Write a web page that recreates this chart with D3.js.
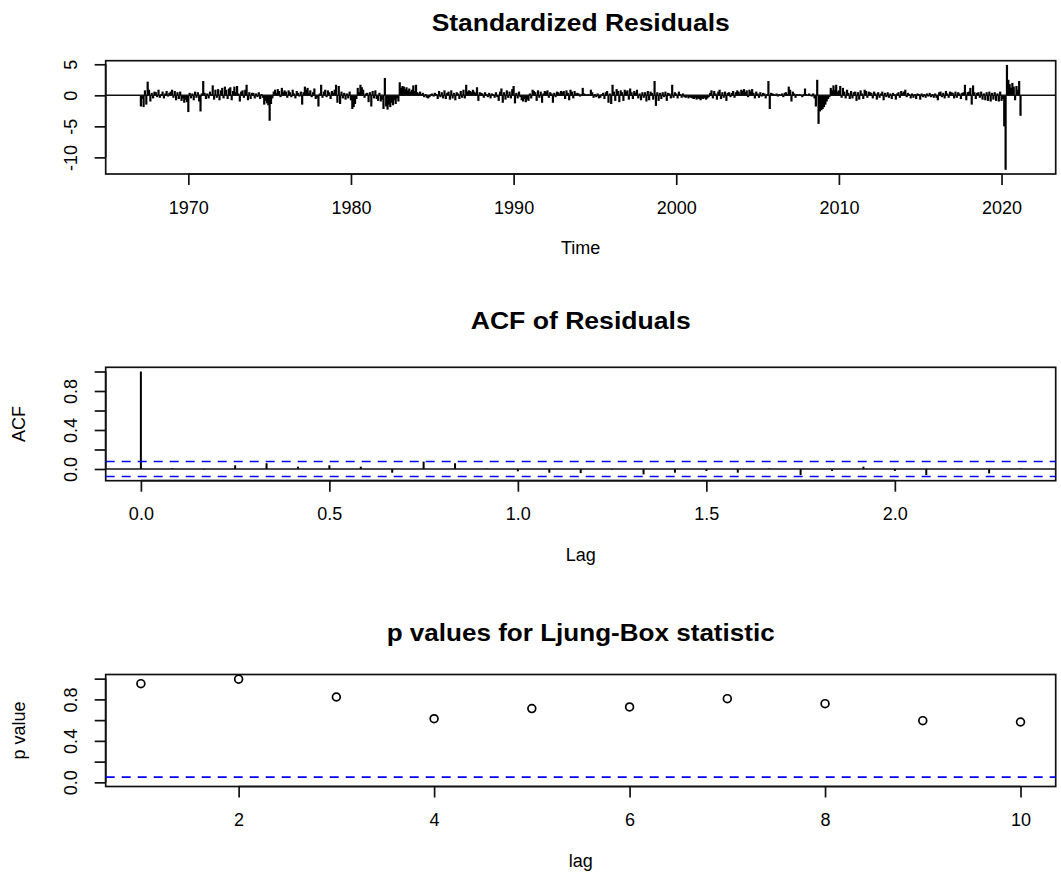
<!DOCTYPE html>
<html><head><meta charset="utf-8">
<script src="https://cdn.jsdelivr.net/npm/d3@7"></script>
<style>
body{margin:0;background:#fff}
svg{display:block}
text{font-family:"Liberation Sans",Arial,sans-serif;fill:#000}
</style>
</head><body>
<svg id="c" width="1061" height="875"></svg>
<script>
// ---------- DATA ----------
const resStartYear = 1967, resStartMonth = 2, resFrequency = 12; // monthly, Feb 1967 .. Mar 2021
const residuals = [
/*1967*/ -1.8,-0.6,-1.9,0.8,-1.5,2.2,0.9,-1.0,0.4,-0.5,0.6,
/*1968*/ 0.5,-0.3,0.9,-0.4,0.2,0.6,-0.5,0.3,0.7,-0.2,0.4,0.6,
/*1969*/ 0.9,-0.4,0.7,-0.8,0.5,-0.6,0.6,-0.9,-0.5,-1.2,-0.7,-1.1,
/*1970*/ -2.7,0.4,-0.5,0.3,-0.8,0.6,-0.4,0.5,-1.0,-2.6,0.3,2.3,
/*1971*/ 0.4,-0.6,0.3,-0.5,0.6,0.2,1.6,-0.7,0.9,-0.4,1.0,-0.8,
/*1972*/ 0.8,1.2,-0.5,1.4,0.9,-0.6,1.1,1.3,-0.8,0.7,1.4,0.5,
/*1973*/ 1.5,0.3,-1.0,0.6,0.8,-0.4,0.9,1.7,-0.8,0.5,-0.6,0.4,
/*1974*/ 0.4,-0.5,0.3,-0.3,0.5,-0.6,0.2,-0.4,-1.5,-0.9,-1.3,-1.6,
/*1975*/ -4.1,-1.4,-0.5,0.6,0.9,0.4,1.0,0.7,-0.3,1.2,0.5,0.8,
/*1976*/ 0.6,-0.4,0.8,0.5,-0.3,0.9,0.3,-0.5,0.7,0.4,-0.2,0.6,
/*1977*/ -1.5,0.5,1.4,0.9,1.2,0.4,0.8,-0.3,0.5,1.1,-0.6,-0.4,
/*1978*/ -1.8,0.3,1.7,-0.4,0.6,0.9,-0.3,0.8,0.5,-0.6,0.7,0.4,
/*1979*/ 0.9,1.7,-1.2,1.5,-1.4,0.6,-0.5,0.4,-0.7,0.3,-0.5,0.6,
/*1980*/ -0.8,-2.2,-1.9,-1.4,-0.6,1.2,0.5,1.7,1.3,0.9,-0.4,0.3,
/*1981*/ 0.4,-1.1,0.5,-1.8,0.7,-0.5,0.8,-0.6,-0.9,0.4,-1.0,-0.7,
/*1982*/ -2.2,2.8,-1.8,-2.3,-1.5,-1.9,-1.2,-1.6,-0.8,-1.4,-0.5,-1.0,
/*1983*/ 2.1,1.2,1.5,1.4,1.0,1.3,0.8,1.1,0.6,0.9,1.6,0.7,
/*1984*/ 1.7,0.5,0.3,0.6,0.2,0.4,-0.3,0.2,-0.4,-0.5,-0.3,0.2,
/*1985*/ 0.3,-0.2,0.4,0.2,-0.6,0.7,-0.3,0.5,-0.5,0.8,-0.6,0.4,
/*1986*/ 0.6,-0.7,0.8,-0.5,0.4,-0.8,0.5,0.3,-0.6,0.7,-0.4,0.9,
/*1987*/ -0.5,1.7,0.6,0.8,0.7,0.5,0.9,0.6,0.4,1.3,-0.9,0.5,
/*1988*/ 0.4,0.3,-0.4,0.5,0.2,-0.3,0.4,-0.5,0.3,0.2,-0.4,0.5,
/*1989*/ -0.3,-0.9,0.6,1.1,-1.2,0.5,-0.7,0.8,-0.4,0.6,-0.5,1.0,
/*1990*/ 1.5,-1.3,0.4,-0.5,0.6,-0.3,-0.8,-1.0,-0.6,-1.1,-0.7,-0.9,
/*1991*/ 0.3,-0.5,0.9,0.7,0.5,-0.9,0.8,-0.4,0.6,-1.2,0.3,0.7,
/*1992*/ 0.6,0.8,-0.4,0.5,0.3,-1.2,0.4,-0.3,0.6,0.5,0.3,0.7,
/*1993*/ 0.5,0.7,-0.6,0.8,0.4,-0.8,0.9,0.6,-0.5,0.7,0.3,0.4,
/*1994*/ 0.3,-0.2,0.2,1.2,0.3,0.2,-0.1,0.2,0.1,0.9,0.5,-0.4,
/*1995*/ 0.2,-0.3,0.3,-0.5,-0.4,0.2,0.4,-0.6,0.5,0.7,-1.2,0.3,
/*1996*/ -1.4,1.7,0.6,-0.9,1.0,0.7,-1.1,0.8,0.5,-0.9,0.9,0.6,
/*1997*/ 0.8,-0.7,1.1,0.5,-0.6,0.7,0.4,0.9,-0.5,0.3,-0.8,0.5,
/*1998*/ -0.4,0.5,-1.0,0.7,-0.8,0.6,0.4,-0.7,2.3,-1.7,0.5,-0.9,
/*1999*/ 0.4,-0.6,0.5,-0.3,0.6,-0.9,0.4,0.3,-0.5,1.7,-0.4,0.5,
/*2000*/ 0.3,-0.5,0.6,0.2,-0.4,0.3,-0.3,-0.4,-0.2,-0.5,-0.3,-0.4,
/*2001*/ -0.5,-0.6,-0.4,-0.7,-0.5,-0.6,-0.8,-0.5,-0.6,-0.4,-0.7,-0.5,
/*2002*/ -0.3,0.4,0.8,-0.5,0.7,0.3,-0.7,0.6,0.9,-0.6,0.5,-0.4,
/*2003*/ 0.6,-0.9,0.4,0.5,-0.3,0.4,0.7,-0.4,0.5,0.8,0.6,0.3,
/*2004*/ 0.9,0.7,1.0,0.5,0.8,-0.3,0.9,0.6,1.0,0.4,-0.5,0.6,
/*2005*/ 0.3,-0.4,0.5,-0.2,0.4,0.3,-0.5,0.2,2.3,-2.2,0.4,0.3,
/*2006*/ 0.2,0.1,0.3,-0.2,0.2,0.1,0.3,-0.3,0.4,0.5,0.2,1.4,
/*2007*/ 0.9,-1.0,0.6,0.3,-0.4,0.2,0.1,0.2,0.1,-0.3,0.2,1.1,
/*2008*/ 0.2,-0.1,0.3,0.1,-0.2,0.3,-0.5,-1.8,2.5,-4.6,-2.6,-2.4,
/*2009*/ -2.2,-1.9,-1.5,-1.0,-0.6,-0.3,1.2,0.8,1.6,0.9,1.7,0.6,
/*2010*/ 0.8,1.5,-0.4,1.2,0.6,-0.5,0.9,0.4,-0.6,0.7,-0.5,0.5,
/*2011*/ 0.6,-0.9,0.5,-0.7,0.8,0.3,-0.6,0.9,0.7,-0.4,0.6,0.5,
/*2012*/ 0.4,-0.5,0.6,0.3,-0.7,0.5,-0.4,0.3,0.6,-0.8,0.4,-0.3,
/*2013*/ 0.5,-0.4,0.3,-0.6,0.4,0.2,-0.7,0.3,0.5,-0.4,0.7,0.4,
/*2014*/ 0.6,0.9,-0.3,0.4,0.2,-0.5,0.3,-0.4,0.2,-0.6,0.3,0.2,
/*2015*/ -0.7,0.3,-0.3,0.2,-0.4,0.3,-0.2,0.4,-0.3,0.2,-0.4,0.3,
/*2016*/ -0.4,-0.8,0.5,0.6,-0.3,0.4,-0.5,0.7,0.3,-0.4,0.6,0.5,
/*2017*/ 0.4,-0.5,0.6,-0.4,0.5,0.3,-0.6,0.4,0.5,1.7,-0.8,0.5,
/*2018*/ 0.6,1.2,-1.5,1.6,0.5,-0.6,0.4,0.5,-0.4,0.6,-0.7,0.3,
/*2019*/ -0.8,0.5,-0.9,0.6,-1.0,0.4,-0.7,0.5,-0.9,0.3,-1.0,0.6,
/*2020*/ -0.9,-0.6,-5.0,-12.0,4.9,2.5,1.8,1.2,2.0,1.4,-0.8,1.5,
/*2021*/ 0.9,2.3,-3.3
];
const resTimeTicks = [1970, 1980, 1990, 2000, 2010, 2020];
const resValueTicks = [-10, -5, 0, 5];

const acfValues = [1.0, 0.008, -0.006, 0.038, 0.059, 0.024, 0.038, 0.024, -0.038, 0.076,
                   0.059, 0.004, -0.024, -0.038, -0.042, -0.005, -0.055, -0.038, -0.02, -0.038,
                   0.006, -0.062, -0.02, 0.024, -0.02, -0.062, -0.004, -0.045, 0.005];
const acfLagUnit = 12;            // lags expressed in years (monthly series)
const acfConfLimit = 0.077;       // 1.96/sqrt(n)
const acfLagTicks = [0, 0.5, 1.0, 1.5, 2.0];
const unitTicks = [0, 0.2, 0.4, 0.6, 0.8, 1.0];
const unitTickLabels = ["0.0", "", "0.4", "", "0.8", ""];

const lbLags = [1, 2, 3, 4, 5, 6, 7, 8, 9, 10];
const lbPValues = [0.952, 0.995, 0.823, 0.614, 0.711, 0.727, 0.807, 0.759, 0.595, 0.582];
const lbLevel = 0.05;
const lbLagTicks = [2, 4, 6, 8, 10];

// ---------- LAYOUT ----------
const L = 105.7, R = 1055.7;
const P1 = {top: 60.7, bottom: 174, titleY: 30.5, titleW: 298};
const P2 = {top: 367.3, bottom: 480.7, titleY: 329, titleW: 220};
const P3 = {top: 674.5, bottom: 786.5, titleY: 641, titleW: 388};
const TICK = 11;
const INK = "#111";

const svg = d3.select("#c");

function rpad(ext){ const r = ext[1]-ext[0]; return [ext[0]-0.04*r, ext[1]+0.04*r]; }

function frame(P, x, y, xTicks, xFmt, yTicks, yLabels, title, xlab, ylab){
  const g = svg.append("g");
  g.append("rect").attr("x", L).attr("y", P.top).attr("width", R-L).attr("height", P.bottom-P.top)
    .attr("fill","none").attr("stroke",INK).attr("stroke-width",1.7);
  // x axis
  const xa = g.append("g").attr("transform",`translate(0,${P.bottom})`)
    .call(d3.axisBottom(x).tickValues(xTicks).tickFormat(xFmt).tickSize(TICK).tickPadding(16));
  xa.select(".domain").attr("d", `M${x(xTicks[0])},0H${x(xTicks[xTicks.length-1])}`).attr("stroke",INK).attr("stroke-width",1.7);
  xa.selectAll(".tick line").attr("stroke",INK).attr("stroke-width",1.7);
  xa.selectAll(".tick text").attr("font-size",18).attr("fill","#000");
  // y axis
  const ya = g.append("g").attr("transform",`translate(${L},0)`)
    .call(d3.axisLeft(y).tickValues(yTicks).tickFormat((d,i)=>yLabels[i]).tickSize(TICK).tickPadding(0));
  ya.select(".domain").attr("d", `M0,${y(yTicks[0])}V${y(yTicks[yTicks.length-1])}`).attr("stroke",INK).attr("stroke-width",1.7);
  ya.selectAll(".tick line").attr("stroke",INK).attr("stroke-width",1.7);
  ya.selectAll(".tick text").attr("font-size",18).attr("fill","#000")
    .attr("x",0).attr("dy",0).attr("text-anchor","middle")
    .attr("transform","translate(-28.5,0) rotate(-90)");
  // titles
  const cx = (L+R)/2;
  g.append("text").attr("x",cx).attr("y",P.titleY).attr("text-anchor","middle")
    .attr("font-size",23).attr("font-weight","bold")
    .attr("textLength",P.titleW).attr("lengthAdjust","spacingAndGlyphs").text(title);
  g.append("text").attr("x",cx).attr("y",P.bottom+80).attr("text-anchor","middle")
    .attr("font-size",18).text(xlab);
  if (ylab) g.append("text").attr("transform",`translate(${L-81},${(P.top+P.bottom)/2}) rotate(-90)`)
    .attr("text-anchor","middle").attr("font-size",18).text(ylab);
  return g;
}

// ---------- PANEL 1: standardized residuals ----------
const resTimes = residuals.map((d,i)=> resStartYear + (resStartMonth-1+i)/resFrequency);
const x1 = d3.scaleLinear().domain(rpad(d3.extent(resTimes))).range([L,R]);
const y1 = d3.scaleLinear().domain(rpad(d3.extent(residuals))).range([P1.bottom,P1.top]);
frame(P1, x1, y1, resTimeTicks, d3.format("d"), resValueTicks, resValueTicks.map(String),
      "Standardized Residuals", "Time", null);
svg.append("g").selectAll("line").data(residuals).join("line")
  .attr("x1",(d,i)=>x1(resTimes[i])).attr("x2",(d,i)=>x1(resTimes[i]))
  .attr("y1",y1(0)).attr("y2",d=>y1(d)).attr("stroke","#000").attr("stroke-width",2.2);
svg.append("line").attr("x1",L).attr("x2",R).attr("y1",y1(0)).attr("y2",y1(0))
  .attr("stroke",INK).attr("stroke-width",1.6);

// ---------- PANEL 2: ACF ----------
const acfLags = acfValues.map((d,k)=>k/acfLagUnit);
const x2 = d3.scaleLinear().domain(rpad(d3.extent(acfLags))).range([L,R]);
const y2 = d3.scaleLinear().domain(rpad(d3.extent([...acfValues, -acfConfLimit, acfConfLimit]))).range([P2.bottom,P2.top]);
frame(P2, x2, y2, acfLagTicks, d3.format(".1f"), unitTicks, unitTickLabels, "ACF of Residuals", "Lag", "ACF");
svg.append("g").selectAll("line").data(acfValues).join("line")
  .attr("x1",(d,k)=>x2(acfLags[k])).attr("x2",(d,k)=>x2(acfLags[k]))
  .attr("y1",y2(0)).attr("y2",d=>y2(d)).attr("stroke","#000").attr("stroke-width",2);
svg.append("line").attr("x1",L).attr("x2",R).attr("y1",y2(0)).attr("y2",y2(0))
  .attr("stroke",INK).attr("stroke-width",1.6);
[acfConfLimit, -acfConfLimit].forEach(c=>{
  svg.append("line").attr("x1",L).attr("x2",R).attr("y1",y2(c)).attr("y2",y2(c))
    .attr("stroke","#0000ff").attr("stroke-width",1.7).attr("stroke-dasharray","9,7");
});

// ---------- PANEL 3: Ljung-Box p-values ----------
const x3 = d3.scaleLinear().domain(rpad(d3.extent(lbLags))).range([L,R]);
const y3 = d3.scaleLinear().domain(rpad([0,1])).range([P3.bottom,P3.top]);
frame(P3, x3, y3, lbLagTicks, d3.format("d"), unitTicks, unitTickLabels,
      "p values for Ljung-Box statistic", "lag", "p value");
svg.append("line").attr("x1",L).attr("x2",R).attr("y1",y3(lbLevel)).attr("y2",y3(lbLevel))
  .attr("stroke","#0000ff").attr("stroke-width",1.7).attr("stroke-dasharray","9,7");
svg.append("g").selectAll("circle").data(lbPValues).join("circle")
  .attr("cx",(d,i)=>x3(lbLags[i])).attr("cy",d=>y3(d)).attr("r",3.9)
  .attr("fill","none").attr("stroke","#000").attr("stroke-width",1.7);
</script>
</body></html>
